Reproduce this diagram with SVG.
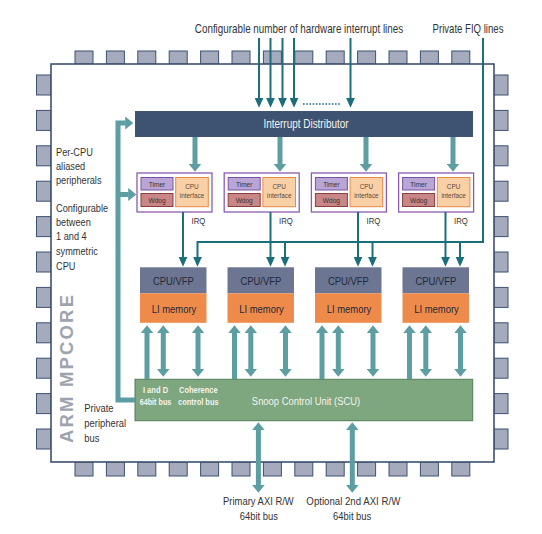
<svg xmlns="http://www.w3.org/2000/svg" width="542" height="534" viewBox="0 0 542 534">
<style>
.t{font-family:"Liberation Sans",Arial,sans-serif;fill:#333;}
.w{fill:#f4f4ee;}
.b{font-weight:bold;}
.s7{font-size:7.5px;}
.s8{font-size:8px;}
.s9{font-size:9.5px;}
.s11{font-size:11.5px;}
.s12{font-size:12px;}
.pin{fill:#a5abbd;stroke:#3d5170;stroke-width:1;}
.thick{fill:none;stroke:#5c9ea2;stroke-width:5;stroke-linejoin:miter;}
.thin{fill:none;stroke:#1b6f7b;stroke-width:2;}
.blk{fill:#fff;stroke:#8d5bb0;stroke-width:1.3;}
.tim{fill:#b9a5d6;stroke:#7a52a3;stroke-width:1;}
.wd{fill:#c98686;stroke:#8c3d3d;stroke-width:1;}
.ci{fill:#f9cfa5;stroke:#ec8a45;stroke-width:1;}
.cit{fill:#5a4a40;}
.cpu{fill:#6c7692;}
.mem{fill:#ee8b4a;}
.dk{fill:#22283a;}
</style>
<defs>
<marker id="ah" markerUnits="userSpaceOnUse" viewBox="0 0 8 13" markerWidth="8" markerHeight="13" refX="0.3" refY="6.5" orient="auto-start-reverse"><path d="M0,0 L8,6.5 L0,13 z" fill="#5c9ea2"/></marker>
<marker id="ahs" markerUnits="userSpaceOnUse" viewBox="0 0 10 9" markerWidth="10" markerHeight="9" refX="0.3" refY="4.5" orient="auto"><path d="M0,0 L10,4.5 L0,9 z" fill="#1b6f7b"/></marker>
</defs>
<rect width="542" height="534" fill="#fff"/>

<g id="chip">
<g id="pins">
<rect class="pin" x="75" y="51" width="18" height="13"/><rect class="pin" x="106.4" y="51" width="18" height="13"/><rect class="pin" x="137.8" y="51" width="18" height="13"/><rect class="pin" x="169.2" y="51" width="18" height="13"/><rect class="pin" x="200.6" y="51" width="18" height="13"/><rect class="pin" x="232" y="51" width="18" height="13"/><rect class="pin" x="263.4" y="51" width="18" height="13"/><rect class="pin" x="294.8" y="51" width="18" height="13"/><rect class="pin" x="326.2" y="51" width="18" height="13"/><rect class="pin" x="357.6" y="51" width="18" height="13"/><rect class="pin" x="389" y="51" width="18" height="13"/><rect class="pin" x="420.4" y="51" width="18" height="13"/><rect class="pin" x="451.8" y="51" width="18" height="13"/>
<rect class="pin" x="75" y="462" width="18" height="14"/><rect class="pin" x="106.4" y="462" width="18" height="14"/><rect class="pin" x="137.8" y="462" width="18" height="14"/><rect class="pin" x="169.2" y="462" width="18" height="14"/><rect class="pin" x="200.6" y="462" width="18" height="14"/><rect class="pin" x="232" y="462" width="18" height="14"/><rect class="pin" x="263.4" y="462" width="18" height="14"/><rect class="pin" x="294.8" y="462" width="18" height="14"/><rect class="pin" x="326.2" y="462" width="18" height="14"/><rect class="pin" x="357.6" y="462" width="18" height="14"/><rect class="pin" x="389" y="462" width="18" height="14"/><rect class="pin" x="420.4" y="462" width="18" height="14"/><rect class="pin" x="451.8" y="462" width="18" height="14"/>
<rect class="pin" x="36.5" y="75" width="14.5" height="20"/><rect class="pin" x="36.5" y="110.4" width="14.5" height="20"/><rect class="pin" x="36.5" y="145.8" width="14.5" height="20"/><rect class="pin" x="36.5" y="181.2" width="14.5" height="20"/><rect class="pin" x="36.5" y="216.6" width="14.5" height="20"/><rect class="pin" x="36.5" y="252" width="14.5" height="20"/><rect class="pin" x="36.5" y="287.4" width="14.5" height="20"/><rect class="pin" x="36.5" y="322.8" width="14.5" height="20"/><rect class="pin" x="36.5" y="358.2" width="14.5" height="20"/><rect class="pin" x="36.5" y="393.6" width="14.5" height="20"/><rect class="pin" x="36.5" y="429" width="14.5" height="20"/>
<rect class="pin" x="494" y="75" width="14" height="20"/><rect class="pin" x="494" y="110.4" width="14" height="20"/><rect class="pin" x="494" y="145.8" width="14" height="20"/><rect class="pin" x="494" y="181.2" width="14" height="20"/><rect class="pin" x="494" y="216.6" width="14" height="20"/><rect class="pin" x="494" y="252" width="14" height="20"/><rect class="pin" x="494" y="287.4" width="14" height="20"/><rect class="pin" x="494" y="322.8" width="14" height="20"/><rect class="pin" x="494" y="358.2" width="14" height="20"/><rect class="pin" x="494" y="393.6" width="14" height="20"/><rect class="pin" x="494" y="429" width="14" height="20"/>
</g>
<rect x="51" y="64" width="443" height="398" fill="#fff" stroke="#3d5170" stroke-width="1.6"/>
<text class="t b" transform="translate(73.3,369) rotate(-90)" text-anchor="middle" font-size="18.5" textLength="148" lengthAdjust="spacing" style="fill:#9ea3b0">ARM MPCORE</text>
</g>

<g id="labels">
<text class="t s12" transform="translate(299,32.7) scale(0.82,1)" text-anchor="middle">Configurable number of hardware interrupt lines</text>
<text class="t s12" transform="translate(468,32.7) scale(0.8,1)" text-anchor="middle">Private FIQ lines</text>
<text class="t s11" transform="translate(56,156) scale(0.8,1)">Per-CPU</text>
<text class="t s11" transform="translate(56,170) scale(0.8,1)">aliased</text>
<text class="t s11" transform="translate(56,184.3) scale(0.8,1)">peripherals</text>
<text class="t s11" transform="translate(56,211.7) scale(0.8,1)">Configurable</text>
<text class="t s11" transform="translate(56,226) scale(0.8,1)">between</text>
<text class="t s11" transform="translate(56,240.3) scale(0.8,1)">1 and 4</text>
<text class="t s11" transform="translate(56,255) scale(0.8,1)">symmetric</text>
<text class="t s11" transform="translate(56,269.5) scale(0.8,1)">CPU</text>
<text class="t s11" transform="translate(84.3,411.5) scale(0.82,1)">Private</text>
<text class="t s11" transform="translate(84.3,426.5) scale(0.82,1)">peripheral</text>
<text class="t s11" transform="translate(84.3,441.5) scale(0.82,1)">bus</text>
<text class="t s11" transform="translate(258.4,505) scale(0.82,1)" text-anchor="middle">Primary AXI R/W</text>
<text class="t s11" transform="translate(258.8,520) scale(0.82,1)" text-anchor="middle">64bit bus</text>
<text class="t s11" transform="translate(353.3,505) scale(0.84,1)" text-anchor="middle">Optional 2nd AXI R/W</text>
<text class="t s11" transform="translate(352.2,520) scale(0.82,1)" text-anchor="middle">64bit bus</text>
</g>

<g id="interrupt-distributor">
<rect x="135" y="111" width="338" height="26" fill="#3e5272"/>
<text class="t w s12" transform="translate(306,128.3) scale(0.83,1)" text-anchor="middle">Interrupt Distributor</text>
</g>

<g id="periph-1">
<rect class="blk" x="137" y="173" width="75" height="39"/>
<rect class="tim" x="141" y="177.5" width="32" height="12.5"/><text class="t s8" transform="translate(157,187) scale(0.82,1)" text-anchor="middle">Timer</text>
<rect class="wd" x="141" y="193.5" width="32" height="13"/><text class="t s8" transform="translate(157,203) scale(0.82,1)" text-anchor="middle">Wdog</text>
<rect class="ci" x="175.7" y="177.5" width="32.6" height="29.2"/><text class="t s7 cit" transform="translate(192,188.8) scale(0.85,1)" text-anchor="middle">CPU</text><text class="t s7 cit" transform="translate(192,197.7) scale(0.85,1)" text-anchor="middle">interface</text>
<text class="t s9" transform="translate(191.5,224) scale(0.82,1)">IRQ</text>
</g>
<g id="periph-2">
<rect class="blk" x="224.2" y="173" width="75" height="39"/>
<rect class="tim" x="228.2" y="177.5" width="32" height="12.5"/><text class="t s8" transform="translate(244.2,187) scale(0.82,1)" text-anchor="middle">Timer</text>
<rect class="wd" x="228.2" y="193.5" width="32" height="13"/><text class="t s8" transform="translate(244.2,203) scale(0.82,1)" text-anchor="middle">Wdog</text>
<rect class="ci" x="262.9" y="177.5" width="32.6" height="29.2"/><text class="t s7 cit" transform="translate(279.2,188.8) scale(0.85,1)" text-anchor="middle">CPU</text><text class="t s7 cit" transform="translate(279.2,197.7) scale(0.85,1)" text-anchor="middle">interface</text>
<text class="t s9" transform="translate(279,224) scale(0.82,1)">IRQ</text>
</g>
<g id="periph-3">
<rect class="blk" x="311.4" y="173" width="75" height="39"/>
<rect class="tim" x="315.4" y="177.5" width="32" height="12.5"/><text class="t s8" transform="translate(331.4,187) scale(0.82,1)" text-anchor="middle">Timer</text>
<rect class="wd" x="315.4" y="193.5" width="32" height="13"/><text class="t s8" transform="translate(331.4,203) scale(0.82,1)" text-anchor="middle">Wdog</text>
<rect class="ci" x="350.1" y="177.5" width="32.6" height="29.2"/><text class="t s7 cit" transform="translate(366.4,188.8) scale(0.85,1)" text-anchor="middle">CPU</text><text class="t s7 cit" transform="translate(366.4,197.7) scale(0.85,1)" text-anchor="middle">interface</text>
<text class="t s9" transform="translate(366.5,224) scale(0.82,1)">IRQ</text>
</g>
<g id="periph-4">
<rect class="blk" x="398.6" y="173" width="75" height="39"/>
<rect class="tim" x="402.6" y="177.5" width="32" height="12.5"/><text class="t s8" transform="translate(418.6,187) scale(0.82,1)" text-anchor="middle">Timer</text>
<rect class="wd" x="402.6" y="193.5" width="32" height="13"/><text class="t s8" transform="translate(418.6,203) scale(0.82,1)" text-anchor="middle">Wdog</text>
<rect class="ci" x="437.3" y="177.5" width="32.6" height="29.2"/><text class="t s7 cit" transform="translate(453.6,188.8) scale(0.85,1)" text-anchor="middle">CPU</text><text class="t s7 cit" transform="translate(453.6,197.7) scale(0.85,1)" text-anchor="middle">interface</text>
<text class="t s9" transform="translate(454,224) scale(0.82,1)">IRQ</text>
</g>

<g id="cpu-1">
<rect class="cpu" x="140" y="267.3" width="66.5" height="26"/><text class="t s11 dk" transform="translate(173.3,284.5) scale(0.82,1)" text-anchor="middle">CPU/VFP</text>
<rect class="mem" x="140" y="293.3" width="66.5" height="29.5"/><text class="t s11 dk" transform="translate(174,312.5) scale(0.82,1)" text-anchor="middle">LI memory</text>
</g>
<g id="cpu-2">
<rect class="cpu" x="227.5" y="267.3" width="66.5" height="26"/><text class="t s11 dk" transform="translate(260.8,284.5) scale(0.82,1)" text-anchor="middle">CPU/VFP</text>
<rect class="mem" x="227.5" y="293.3" width="66.5" height="29.5"/><text class="t s11 dk" transform="translate(261.5,312.5) scale(0.82,1)" text-anchor="middle">LI memory</text>
</g>
<g id="cpu-3">
<rect class="cpu" x="315" y="267.3" width="66.5" height="26"/><text class="t s11 dk" transform="translate(348.3,284.5) scale(0.82,1)" text-anchor="middle">CPU/VFP</text>
<rect class="mem" x="315" y="293.3" width="66.5" height="29.5"/><text class="t s11 dk" transform="translate(349,312.5) scale(0.82,1)" text-anchor="middle">LI memory</text>
</g>
<g id="cpu-4">
<rect class="cpu" x="402.5" y="267.3" width="66.5" height="26"/><text class="t s11 dk" transform="translate(435.8,284.5) scale(0.82,1)" text-anchor="middle">CPU/VFP</text>
<rect class="mem" x="402.5" y="293.3" width="66.5" height="29.5"/><text class="t s11 dk" transform="translate(436.5,312.5) scale(0.82,1)" text-anchor="middle">LI memory</text>
</g>

<g id="scu">
<rect x="135" y="379.3" width="337.7" height="41.4" fill="#7ea67f" stroke="#4f7f56" stroke-width="1"/>
<text class="t w s11" transform="translate(306,405) scale(0.82,1)" text-anchor="middle">Snoop Control Unit (SCU)</text>
<text class="t w b" font-size="9" transform="translate(155.5,392.7) scale(0.84,1)" text-anchor="middle">I and D</text>
<text class="t w b" font-size="9" transform="translate(155.5,405) scale(0.8,1)" text-anchor="middle">64bit bus</text>
<text class="t w b" font-size="9" transform="translate(198.3,392.7) scale(0.83,1)" text-anchor="middle">Coherence</text>
<text class="t w b" font-size="9" transform="translate(198.3,405) scale(0.83,1)" text-anchor="middle">control bus</text>
</g>

<g id="connectors">
<g class="thin">
<line x1="259" y1="38" x2="259" y2="98" marker-end="url(#ahs)"/>
<line x1="270.5" y1="38" x2="270.5" y2="98" marker-end="url(#ahs)"/>
<line x1="282.5" y1="38" x2="282.5" y2="98" marker-end="url(#ahs)"/>
<line x1="294" y1="38" x2="294" y2="98" marker-end="url(#ahs)"/>
<line x1="350.5" y1="38" x2="350.5" y2="98" marker-end="url(#ahs)"/>
<line x1="303" y1="104" x2="341" y2="104" stroke-width="1.6" stroke-dasharray="1.6 1.6"/>
<path d="M483,38 V242 H197.5 V257" marker-end="url(#ahs)"/>
<line x1="285" y1="242" x2="285" y2="257" marker-end="url(#ahs)"/>
<line x1="372.5" y1="242" x2="372.5" y2="257" marker-end="url(#ahs)"/>
<line x1="460" y1="242" x2="460" y2="257" marker-end="url(#ahs)"/>
<line x1="183" y1="212" x2="183" y2="257" marker-end="url(#ahs)"/>
<line x1="270.5" y1="212" x2="270.5" y2="257" marker-end="url(#ahs)"/>
<line x1="358" y1="212" x2="358" y2="257" marker-end="url(#ahs)"/>
<line x1="445.5" y1="212" x2="445.5" y2="257" marker-end="url(#ahs)"/>
</g>
<g class="thick">
<line x1="195" y1="137" x2="195" y2="164" marker-end="url(#ah)"/>
<line x1="280" y1="137" x2="280" y2="164" marker-end="url(#ah)"/>
<line x1="366" y1="137" x2="366" y2="164" marker-end="url(#ah)"/>
<line x1="453" y1="137" x2="453" y2="164" marker-end="url(#ah)"/>
<path d="M135,400 H118 V123 H125.5" marker-end="url(#ah)"/>
<path d="M118,194.5 H128.5" marker-end="url(#ah)"/>
<line x1="147" y1="379" x2="147" y2="333" marker-end="url(#ah)"/>
<line x1="163.3" y1="333" x2="163.3" y2="369" marker-start="url(#ah)" marker-end="url(#ah)"/>
<line x1="198" y1="333" x2="198" y2="369" marker-start="url(#ah)" marker-end="url(#ah)"/>
<line x1="234.5" y1="379" x2="234.5" y2="333" marker-end="url(#ah)"/>
<line x1="250.8" y1="333" x2="250.8" y2="369" marker-start="url(#ah)" marker-end="url(#ah)"/>
<line x1="285.5" y1="333" x2="285.5" y2="369" marker-start="url(#ah)" marker-end="url(#ah)"/>
<line x1="322" y1="379" x2="322" y2="333" marker-end="url(#ah)"/>
<line x1="338.3" y1="333" x2="338.3" y2="369" marker-start="url(#ah)" marker-end="url(#ah)"/>
<line x1="373" y1="333" x2="373" y2="369" marker-start="url(#ah)" marker-end="url(#ah)"/>
<line x1="409.5" y1="379" x2="409.5" y2="333" marker-end="url(#ah)"/>
<line x1="425.8" y1="333" x2="425.8" y2="369" marker-start="url(#ah)" marker-end="url(#ah)"/>
<line x1="460.5" y1="333" x2="460.5" y2="369" marker-start="url(#ah)" marker-end="url(#ah)"/>
<line x1="258.4" y1="430" x2="258.4" y2="485" marker-start="url(#ah)" marker-end="url(#ah)"/>
<line x1="352.3" y1="430" x2="352.3" y2="485" marker-start="url(#ah)" marker-end="url(#ah)"/>
</g>
</g>
</svg>
